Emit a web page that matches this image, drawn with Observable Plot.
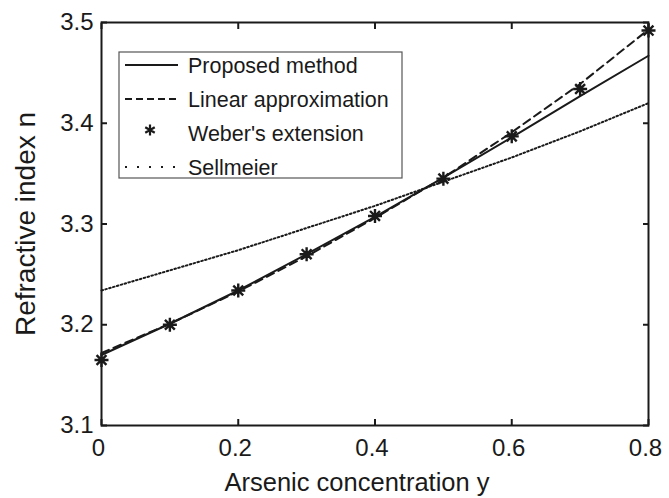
<!DOCTYPE html>
<html><head><meta charset="utf-8">
<script src="https://cdn.jsdelivr.net/npm/d3@7"></script>
<script src="https://cdn.jsdelivr.net/npm/@observablehq/plot@0.6"></script>
<style>body{margin:0;background:#fff;font-family:"Liberation Sans",Arial,sans-serif}</style>
</head><body><div id="chart"></div>
<script>
const conc = [0, 0.1, 0.2, 0.3, 0.4, 0.5, 0.6, 0.7, 0.8];
const proposed = [3.170, 3.201, 3.234, 3.270, 3.307, 3.346, 3.386, 3.427, 3.467];
const linearApprox = [3.172, 3.201, 3.233, 3.268, 3.306, 3.346, 3.391, 3.439, 3.493];
const weber = [3.165, 3.200, 3.234, 3.270, 3.308, 3.345, 3.387, 3.434, 3.492];
const sellmeier = [3.234, 3.254, 3.274, 3.296, 3.318, 3.342, 3.366, 3.392, 3.420];
const xTicks = [0, 0.2, 0.4, 0.6, 0.8];
const yTicks = [3.1, 3.2, 3.3, 3.4, 3.5];
const seriesNames = ["Proposed method", "Linear approximation", "Weber's extension", "Sellmeier"];
const xLabel = "Arsenic concentration y";
const yLabel = "Refractive index n";

const rows = (vals) => conc.map((x, i) => ({x, y: vals[i]}));

const star = {
  draw(ctx, size) {
    const r = Math.sqrt(size / Math.PI);
    const d = r * Math.SQRT1_2;
    ctx.moveTo(-r, 0); ctx.lineTo(r, 0);
    ctx.moveTo(0, -r); ctx.lineTo(0, r);
    ctx.moveTo(-d, -d); ctx.lineTo(d, d);
    ctx.moveTo(-d, d); ctx.lineTo(d, -d);
  }
};

const fmt = d => d === 0 ? "0" : String(d);
const ink = "#1a1a1a";

const chart = Plot.plot({
  width: 669, height: 498,
  marginLeft: 101, marginRight: 21, marginTop: 22, marginBottom: 73,
  style: {fontFamily: '"Liberation Sans", Arial, sans-serif', background: "#fff", color: ink},
  x: {domain: [0, 0.8]},
  y: {domain: [3.1, 3.5]},
  marks: [
    Plot.line(rows(sellmeier), {x: "x", y: "y", stroke: ink, strokeWidth: 2, strokeDasharray: "1.6,2.4"}),
    Plot.line(rows(linearApprox), {x: "x", y: "y", stroke: ink, strokeWidth: 2, strokeDasharray: "8,5"}),
    Plot.line(rows(proposed), {x: "x", y: "y", stroke: ink, strokeWidth: 2}),
    Plot.dot(rows(weber), {x: "x", y: "y", symbol: star, r: 7, stroke: ink, strokeWidth: 2.4, fill: "none"}),
    Plot.frame({stroke: ink, strokeWidth: 2}),
    Plot.axisX({ticks: xTicks, anchor: "bottom", tickSize: -6, text: null, strokeWidth: 2, label: null}),
    Plot.axisX({ticks: xTicks, anchor: "top", tickSize: -6, text: null, strokeWidth: 2, label: null}),
    Plot.axisY({ticks: yTicks, anchor: "left", tickSize: -6, text: null, strokeWidth: 2, label: null}),
    Plot.axisY({ticks: yTicks, anchor: "right", tickSize: -6, text: null, strokeWidth: 2, label: null}),
    Plot.axisX({ticks: xTicks, anchor: "bottom", tickSize: 0, tickPadding: 13, dx: -3, tickFormat: fmt, fontSize: 24, label: null}),
    Plot.axisY({ticks: yTicks, anchor: "left", tickSize: 0, tickPadding: 8, tickFormat: d => d.toFixed(1), fontSize: 24, label: null}),
    Plot.text([xLabel], {frameAnchor: "bottom", dy: 57.5, dx: -18, fontSize: 25.5, lineAnchor: "middle", textAnchor: "middle"}),
    Plot.text([yLabel], {frameAnchor: "left", dx: -75, rotate: -90, fontSize: 28, lineAnchor: "middle", textAnchor: "middle"})
  ]
});
document.getElementById("chart").appendChild(chart);

// legend
const svg = d3.select(chart);
const lg = svg.append("g").attr("transform", "translate(119,52)")
  .style("font-family", '"Liberation Sans", Arial, sans-serif').attr("text-anchor", "start");
lg.append("rect").attr("width", 283).attr("height", 126).attr("fill", "#fff").attr("stroke", "#555").attr("stroke-width", 1.2);
const dashes = [null, "7,4", null, "2,10"];
seriesNames.forEach((name, i) => {
  const cy = 13 + i * 34;
  if (i === 2) {
    const r = 5.5, cx = 31, c = cy - 3;
    const a = r * Math.cos(Math.PI / 6), b = r * Math.sin(Math.PI / 6);
    lg.append("path").attr("d", `M${cx},${c-r}V${c+r}M${cx-a},${c-b}L${cx+a},${c+b}M${cx-a},${c+b}L${cx+a},${c-b}`)
      .attr("stroke", ink).attr("stroke-width", 2.2).attr("fill", "none");
  } else {
    lg.append("line").attr("x1", 6).attr("x2", 59).attr("y1", cy).attr("y2", cy)
      .attr("stroke", ink).attr("stroke-width", 2).attr("stroke-dasharray", dashes[i]);
  }
  lg.append("text").attr("x", 69).attr("y", cy).attr("dy", "0.35em").attr("font-size", 21.5).attr("fill", ink).text(name);
});
</script></body></html>
